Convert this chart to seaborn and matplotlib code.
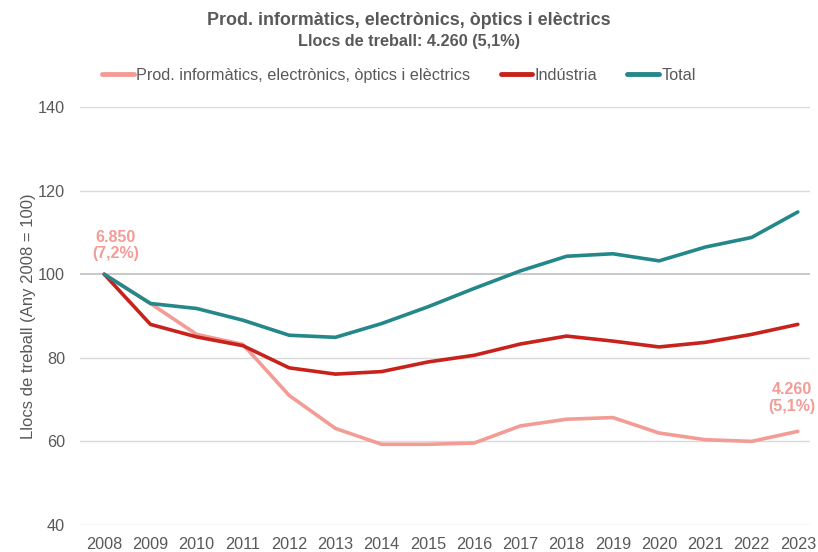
import matplotlib
matplotlib.use("Agg")
import matplotlib.pyplot as plt
import seaborn as sns
import pandas as pd

# Data (index, 2008 = 100)
years = list(range(2008, 2024))
prod_info = [100, 93.0, 85.6, 83.2, 71.0, 63.1, 59.3, 59.3, 59.6, 63.7, 65.3, 65.7, 62.0, 60.4, 60.0, 62.4]
industria = [100, 88.0, 85.0, 82.9, 77.6, 76.1, 76.7, 79.0, 80.6, 83.3, 85.2, 84.0, 82.6, 83.7, 85.6, 88.0]
total = [100, 93.0, 91.8, 89.0, 85.4, 84.9, 88.2, 92.2, 96.6, 100.8, 104.3, 104.9, 103.2, 106.5, 108.8, 114.9]

series_names = ["Prod. informàtics, electrònics, òptics i elèctrics", "Indústria", "Total"]
colors = ["#F39C96", "#C8221C", "#24878A"]

df = pd.DataFrame({
    "year": years * 3,
    "value": prod_info + industria + total,
    "serie": [series_names[0]] * 16 + [series_names[1]] * 16 + [series_names[2]] * 16,
})

sns.set_style("white")
plt.rcParams["font.family"] = ["Liberation Sans", "DejaVu Sans"]
text_color = "#595959"
fs = 11.7

fig = plt.figure(figsize=(8.18, 5.52), dpi=100)
ax = fig.add_axes([0.098, 0.049, 0.892, 0.757])

# gridlines
for v in [40, 60, 80, 120, 140]:
    ax.axhline(v, color="#D9D9D9", lw=1, zorder=0)
ax.axhline(100, color="#BFBFBF", lw=1.2, zorder=0)

sns.lineplot(data=df, x="year", y="value", hue="serie", palette=colors,
             hue_order=series_names, linewidth=2.6, ax=ax, legend=False)

ax.set_ylim(40, 140)
ax.set_xlim(2008 - 0.52, 2023 + 0.26)
ax.set_yticks([40, 60, 80, 100, 120, 140])
ax.set_xticks(years)
ax.tick_params(axis="both", length=0, labelsize=fs, colors=text_color)
ax.tick_params(axis="y", pad=11)
ax.tick_params(axis="x", pad=9)
for s in ax.spines.values():
    s.set_visible(False)
ax.set_xlabel("")
ax.set_ylabel("Llocs de treball (Any 2008 = 100)", fontsize=fs + 0.3, color=text_color, labelpad=1)

# annotations
ax.text(2008.25, 106.9, "6.850\n(7,2%)", ha="center", va="center", color=colors[0],
        fontsize=11.5, fontweight="bold", linespacing=1.15)
ax.text(2022.87, 70.4, "4.260\n(5,1%)", ha="center", va="center", color=colors[0],
        fontsize=11.5, fontweight="bold", linespacing=1.15)

# title
fig.text(0.5, 0.962, "Prod. informàtics, electrònics, òptics i elèctrics", ha="center", va="center",
         fontsize=12.9, fontweight="bold", color=text_color)
fig.text(0.5, 0.924, "Llocs de treball: 4.260 (5,1%)", ha="center", va="center",
         fontsize=fs, fontweight="bold", color=text_color)

# legend
handles = [plt.Line2D([], [], color=c, lw=3.5) for c in colors]
fig.legend(handles, series_names, loc="center", bbox_to_anchor=(0.488, 0.863), ncol=3,
           frameon=False, fontsize=fs, labelcolor=text_color, handlelength=1.95,
           handletextpad=0.15, columnspacing=1.85)

fig.savefig("out.png", dpi=100)
